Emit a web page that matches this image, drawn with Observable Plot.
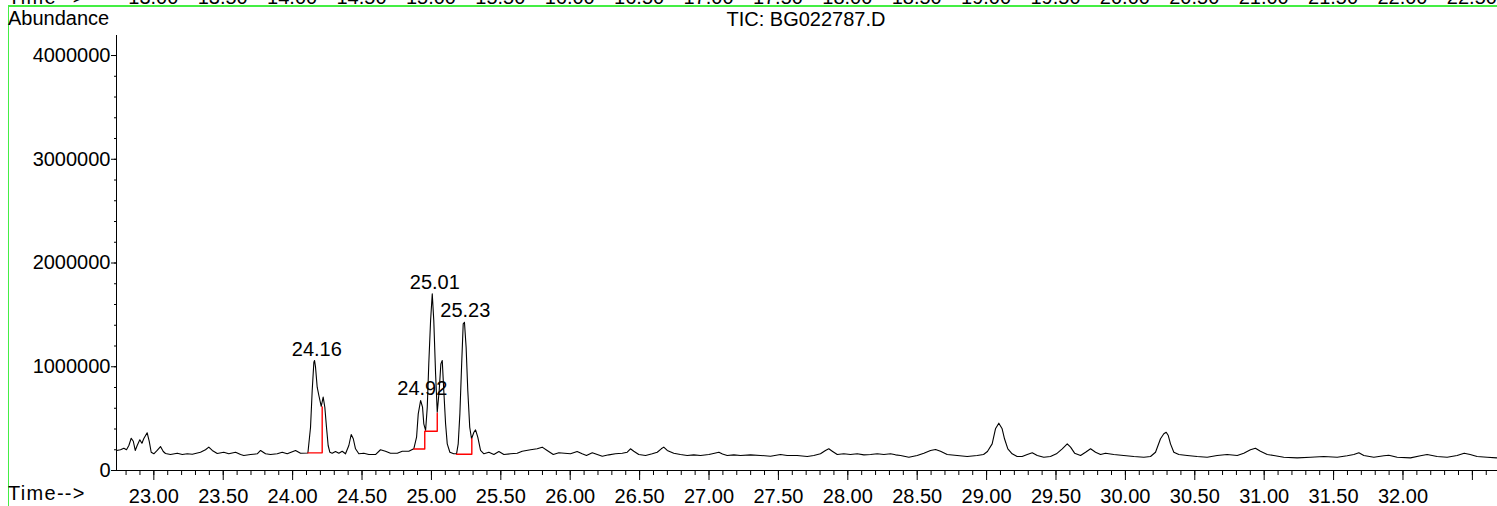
<!DOCTYPE html>
<html>
<head>
<meta charset="utf-8">
<script src="https://cdn.jsdelivr.net/npm/d3@7"></script>
<script src="https://cdn.jsdelivr.net/npm/@observablehq/plot@0.6"></script>
<style>
  html, body { margin: 0; padding: 0; background: #fff; }
  #wrap { position: relative; width: 1497px; height: 506px; overflow: hidden; background: #fff;
          font-family: "Liberation Sans", Arial, sans-serif; font-size: 20px; color: #000; }
  #wrap svg { position: absolute; left: 0; top: 0; }
  .t { position: absolute; line-height: 20px; white-space: nowrap; }
  #frame { position: absolute; left: 8px; top: 5px; width: 1500px; height: 499px;
           border-top: 2px solid #44ee44; border-left: 1px solid #44ee44; border-bottom: 1px solid #9be89b; }
</style>
</head>
<body>
<div id="wrap"><div id="frame"></div></div>
<script>
// ---- Data (retention time in min, abundance) ----
const times = [
  22.732, 22.760, 22.784, 22.803, 22.820, 22.837, 22.852, 22.866, 22.880, 22.899,
  22.914, 22.928, 22.952, 22.967, 22.981, 23.000, 23.024, 23.048, 23.068, 23.084,
  23.120, 23.169, 23.205, 23.241, 23.277, 23.336, 23.372, 23.396, 23.421, 23.457,
  23.504, 23.540, 23.589, 23.625, 23.648, 23.697, 23.745, 23.769, 23.805, 23.841,
  23.889, 23.925, 23.961, 24.021, 24.057, 24.110,
  24.129, 24.141, 24.153, 24.158, 24.165, 24.177, 24.189, 24.206, 24.220, 24.232,
  24.244, 24.256, 24.268, 24.285, 24.309, 24.333, 24.357, 24.381, 24.405, 24.422,
  24.437, 24.453, 24.477, 24.513, 24.549, 24.597, 24.633, 24.669, 24.705, 24.754,
  24.790, 24.837, 24.873, 24.893, 24.905, 24.922, 24.936, 24.945, 24.958, 24.970,
  24.981, 24.994, 25.006, 25.017, 25.030, 25.042, 25.056, 25.068, 25.078, 25.089,
  25.102, 25.114, 25.133, 25.161, 25.181, 25.193, 25.205, 25.217, 25.229, 25.238,
  25.250, 25.262, 25.276, 25.289, 25.306, 25.318, 25.334, 25.354, 25.378, 25.414,
  25.450, 25.486, 25.522, 25.570, 25.618,
  25.654, 25.714, 25.762, 25.798, 25.834, 25.878, 25.918, 25.959, 26.002, 26.050,
  26.086, 26.117, 26.159, 26.195, 26.231, 26.278, 26.326, 26.375, 26.411, 26.434,
  26.458, 26.494, 26.543, 26.591, 26.627, 26.656, 26.674, 26.699, 26.746, 26.794,
  26.843, 26.890, 26.939, 26.999, 27.032, 27.071, 27.097, 27.131, 27.179, 27.227,
  27.299, 27.371, 27.443, 27.515, 27.563, 27.635, 27.708, 27.755, 27.803, 27.839,
  27.863, 27.888, 27.924, 27.971, 28.019, 28.068, 28.116, 28.164, 28.212, 28.260,
  28.308, 28.344, 28.380, 28.440,
  28.500, 28.548, 28.596, 28.632, 28.668, 28.716, 28.788, 28.860, 28.932, 28.978,
  29.006, 29.040, 29.064, 29.088, 29.112, 29.129, 29.153, 29.184, 29.220, 29.256,
  29.293, 29.329, 29.365, 29.412, 29.460, 29.503, 29.545, 29.581, 29.605, 29.634,
  29.677, 29.713, 29.749, 29.785, 29.821, 29.857, 29.916, 29.988, 30.061, 30.133,
  30.181, 30.217, 30.253, 30.277, 30.294, 30.309, 30.325, 30.349, 30.385, 30.445,
  30.517, 30.589, 30.661, 30.733, 30.806, 30.853, 30.901, 30.937, 30.973, 31.022,
  31.069, 31.141, 31.238, 31.334, 31.429, 31.526, 31.598, 31.646, 31.682, 31.718,
  31.790, 31.862, 31.898, 31.958, 32.054, 32.126, 32.174, 32.246, 32.318, 32.390,
  32.441, 32.484, 32.534, 32.607, 32.675
];
const abundance = [
  193000, 200000, 215000, 200000, 241000, 311000, 282000, 193000, 241000, 296000,
  263000, 308000, 363000, 280000, 176000, 161000, 193000, 231000, 183000, 164000,
  154000, 167000, 154000, 161000, 157000, 176000, 200000, 225000, 193000, 164000,
  176000, 161000, 176000, 154000, 145000, 154000, 161000, 193000, 161000, 154000,
  161000, 176000, 161000, 193000, 167000, 169000,
  417000, 771000, 1044000, 1060000, 996000, 803000, 723000, 617000, 707000, 610000,
  417000, 241000, 176000, 167000, 183000, 167000, 186000, 161000, 241000, 347000,
  306000, 209000, 161000, 167000, 154000, 154000, 200000, 186000, 167000, 167000,
  186000, 186000, 209000, 321000, 546000, 675000, 610000, 450000, 386000, 610000,
  1028000, 1446000, 1703000, 1446000, 932000, 562000, 771000, 1028000, 1060000, 771000,
  450000, 257000, 176000, 161000, 161000, 257000, 546000, 996000, 1414000, 1429000,
  1188000, 771000, 417000, 306000, 369000, 392000, 321000, 193000, 161000, 176000,
  154000, 183000, 154000, 161000, 167000,
  186000, 200000, 209000, 225000, 193000, 154000, 171000, 167000, 161000, 183000,
  161000, 145000, 171000, 154000, 138000, 151000, 161000, 167000, 176000, 209000,
  186000, 154000, 145000, 161000, 176000, 209000, 225000, 193000, 167000, 154000,
  145000, 151000, 145000, 154000, 164000, 176000, 159000, 145000, 151000, 145000,
  151000, 145000, 138000, 154000, 145000, 145000, 135000, 145000, 161000, 193000,
  209000, 186000, 154000, 161000, 154000, 161000, 151000, 154000, 161000, 154000,
  161000, 151000, 145000, 128000,
  145000, 167000, 193000, 202000, 186000, 154000, 145000, 135000, 145000, 154000,
  183000, 257000, 402000, 456000, 402000, 306000, 209000, 161000, 135000, 135000,
  154000, 171000, 145000, 128000, 135000, 161000, 209000, 257000, 225000, 167000,
  145000, 176000, 209000, 176000, 154000, 167000, 154000, 145000, 135000, 128000,
  135000, 176000, 306000, 354000, 369000, 337000, 257000, 176000, 154000, 145000,
  135000, 128000, 145000, 154000, 145000, 167000, 200000, 215000, 186000, 154000,
  145000, 128000, 122000, 128000, 135000, 128000, 142000, 154000, 171000, 145000,
  128000, 142000, 147000, 128000, 122000, 142000, 154000, 135000, 128000, 145000,
  167000, 154000, 135000, 128000, 122000
];

// integration baselines (red)
const baseGroup = [1, 1, 1, 2, 2, 2, 2, 2, 3, 3, 3];
const baseTime  = [24.110, 24.213, 24.213, 24.873, 24.952, 24.952, 25.042, 25.042, 25.181, 25.291, 25.291];
const baseValue = [170000, 170000, 612000, 207000, 207000, 378000, 378000, 552000, 157000, 157000, 306000];

// peak annotations
const peakLabels  = ["24.16", "24.92", "25.01", "25.23"];
const peakTimes   = [24.16, 24.92, 25.01, 25.23];
const peakHeights = [1060000, 675000, 1703000, 1429000];

// axis ticks
const xMajorTicks = [23, 23.5, 24, 24.5, 25, 25.5, 26, 26.5, 27, 27.5, 28, 28.5, 29, 29.5, 30, 30.5, 31, 31.5, 32, 32.5];
const xLabelTicks = [23, 23.5, 24, 24.5, 25, 25.5, 26, 26.5, 27, 27.5, 28, 28.5, 29, 29.5, 30, 30.5, 31, 31.5, 32];
const yMajorTicks = [0, 1000000, 2000000, 3000000, 4000000];
const topStripLabels = ["13.00","13.50","14.00","14.50","15.00","15.50","16.00","16.50","17.00","17.50",
                        "18.00","18.50","19.00","19.50","20.00","20.50","21.00","21.50","22.00","22.50"];

const trace = times.map((t, i) => ({t, v: abundance[i]}));
const baselines = baseTime.map((t, i) => ({t, v: baseValue[i], g: baseGroup[i]}));
const peaks = peakTimes.map((t, i) => ({t, v: peakHeights[i], label: peakLabels[i]}));
const xMinor = d3.range(22.8, 32.69, 0.1).map(d => +d.toFixed(1));
const yMinor = d3.range(0, 4190000, 200000);

const plot = Plot.plot({
  width: 1497, height: 506,
  marginLeft: 116, marginRight: 0, marginTop: 35, marginBottom: 36,
  style: {fontFamily: "'Liberation Sans', Arial, sans-serif", fontSize: "20px", color: "#000", background: "transparent", overflow: "visible"},
  x: {domain: [22.731, 32.681]},
  y: {domain: [0, 4193000]},
  marks: [
    Plot.axisX({ticks: xMinor, tickSize: 5, tickFormat: () => "", label: null, stroke: "#000"}),
    Plot.axisX({ticks: xMajorTicks, tickSize: 10, tickPadding: 8, label: null, stroke: "#000",
                tickFormat: d => xLabelTicks.includes(d) ? d.toFixed(2) : ""}),
    Plot.axisY({ticks: yMinor, tickSize: 2, tickFormat: () => "", label: null, stroke: "#000"}),
    Plot.axisY({ticks: yMajorTicks, tickSize: 5, tickPadding: 1, label: null, stroke: "#000",
                tickFormat: d => d.toFixed(0)}),
    Plot.ruleX([22.731], {stroke: "#000", strokeWidth: 1}),
    Plot.ruleY([0], {stroke: "#000", strokeWidth: 1}),
    Plot.line(trace, {x: "t", y: "v", stroke: "#000", strokeWidth: 1.1}),
    Plot.line(baselines, {x: "t", y: "v", z: "g", stroke: "#ff0000", strokeWidth: 1.4}),
    Plot.text(peaks, {x: "t", y: "v", text: "label", textAnchor: "middle", lineAnchor: "bottom",
                      dx: 2, dy: -5, fill: "#000", fontSize: 20})
  ]
});

const wrap = document.getElementById("wrap");
wrap.insertBefore(plot, wrap.firstChild);

function addText(str, left, baseline, center, spacing) {
  const el = document.createElement("div");
  el.className = "t";
  el.textContent = str;
  el.style.left = left + "px";
  el.style.top = (baseline - 17) + "px";
  if (center) el.style.transform = "translateX(-50%)";
  if (spacing) el.style.letterSpacing = spacing + "px";
  wrap.appendChild(el);
  return el;
}
const xs = plot.scale("x");
// clipped remnant of the previous panel's time axis at the very top
addText("Time-->", 8, 4, false, 1.3);
topStripLabels.forEach(s => addText(s, xs.apply(+s + 10), 4, true));
addText("Abundance", 8, 25, false);
addText("TIC: BG022787.D", 806, 26, true);
addText("Time-->", 8, 500, false, 1.3);
</script>
</body>
</html>
